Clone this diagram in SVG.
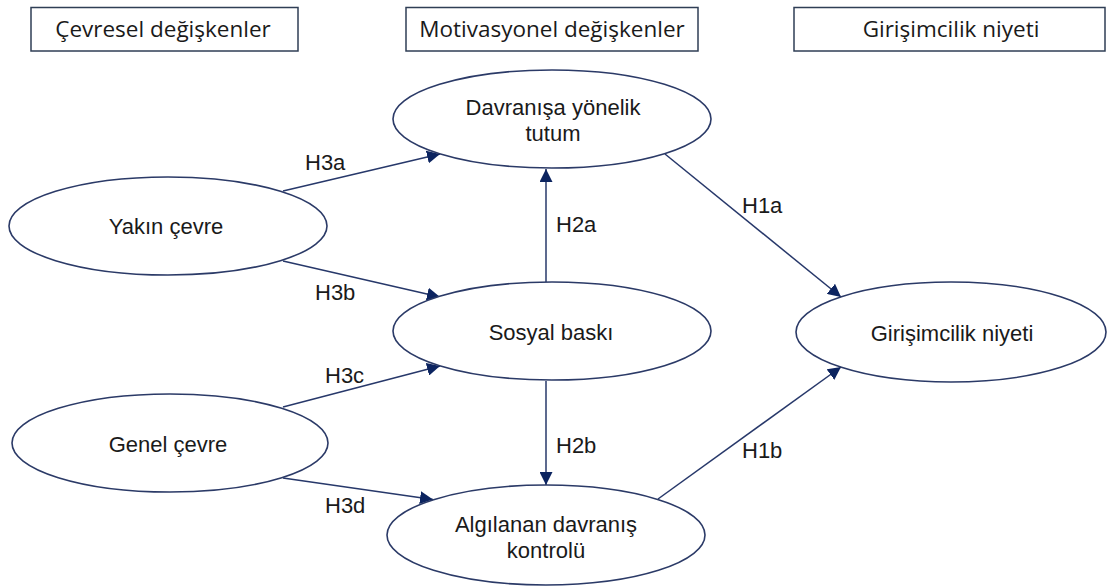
<svg xmlns="http://www.w3.org/2000/svg" width="1107" height="588" viewBox="0 0 1107 588">
  <style>
    .hdr rect { fill: #ffffff; stroke: #2f3e55; stroke-width: 1.5; }
    .hdr text { font-family: "Open Sans", "Noto Sans", sans-serif; font-size: 22.5px; fill: #1a1a1a; text-anchor: middle; }
    .node ellipse { fill: #ffffff; stroke: #2b3a67; stroke-width: 1.6; }
    .node text { font-family: "Liberation Sans", Arial, sans-serif; font-size: 22px; fill: #1a1a1a; text-anchor: middle; }
    .edge line { stroke: #27386a; stroke-width: 1.5; marker-end: url(#arr); }
    .lbl { font-family: "Liberation Sans", Arial, sans-serif; font-size: 22px; fill: #1a1a1a; }
  </style>
  <defs>
    <marker id="arr" markerUnits="userSpaceOnUse" markerWidth="14" markerHeight="13" refX="13" refY="6.5" orient="auto">
      <path d="M0,0 L13,6.5 L0,13 z" fill="#0c2460"/>
    </marker>
  </defs>
  <rect x="0" y="0" width="1107" height="588" fill="#ffffff"/>

  <g id="header-cevresel" class="hdr">
    <rect x="31" y="7.5" width="267" height="43.5"/>
    <text x="163" y="37">Çevresel değişkenler</text>
  </g>
  <g id="header-motivasyonel" class="hdr">
    <rect x="406" y="7.5" width="292" height="43.5"/>
    <text x="552" y="37">Motivasyonel değişkenler</text>
  </g>
  <g id="header-girisimcilik" class="hdr">
    <rect x="794" y="7.5" width="311" height="43.5"/>
    <text x="951" y="37">Girişimcilik niyeti</text>
  </g>

  <g id="connectors" class="edge">
    <line x1="283" y1="191" x2="440" y2="154"/>
    <line x1="283" y1="261" x2="440" y2="297"/>
    <line x1="283" y1="407" x2="440" y2="366"/>
    <line x1="283" y1="478" x2="433" y2="499.5"/>
    <line x1="546" y1="282" x2="546" y2="169"/>
    <line x1="546" y1="381" x2="546" y2="485"/>
    <line x1="665" y1="154" x2="841" y2="297"/>
    <line x1="658" y1="499" x2="841" y2="367"/>
  </g>

  <g id="connector-labels">
    <text class="lbl" x="305" y="170">H3a</text>
    <text class="lbl" x="315" y="300">H3b</text>
    <text class="lbl" x="325" y="383">H3c</text>
    <text class="lbl" x="325" y="513">H3d</text>
    <text class="lbl" x="556" y="232">H2a</text>
    <text class="lbl" x="556" y="453">H2b</text>
    <text class="lbl" x="742" y="213">H1a</text>
    <text class="lbl" x="742" y="458">H1b</text>
  </g>

  <g id="node-davranisa" class="node">
    <ellipse cx="552" cy="119" rx="159" ry="49"/>
    <text x="553" y="115">Davranışa yönelik</text>
    <text x="553" y="141">tutum</text>
  </g>
  <g id="node-yakin" class="node">
    <ellipse cx="168" cy="226" rx="159" ry="49"/>
    <text x="166" y="234">Yakın çevre</text>
  </g>
  <g id="node-sosyal" class="node">
    <ellipse cx="552" cy="331" rx="159" ry="49"/>
    <text x="551" y="340">Sosyal baskı</text>
  </g>
  <g id="node-genel" class="node">
    <ellipse cx="170" cy="443" rx="158" ry="49"/>
    <text x="168" y="452">Genel çevre</text>
  </g>
  <g id="node-algilanan" class="node">
    <ellipse cx="546" cy="535" rx="159" ry="50"/>
    <text x="546" y="532">Algılanan davranış</text>
    <text x="546" y="558">kontrolü</text>
  </g>
  <g id="node-girisimcilik" class="node">
    <ellipse cx="951" cy="332" rx="155" ry="50"/>
    <text x="952" y="341">Girişimcilik niyeti</text>
  </g>
</svg>
